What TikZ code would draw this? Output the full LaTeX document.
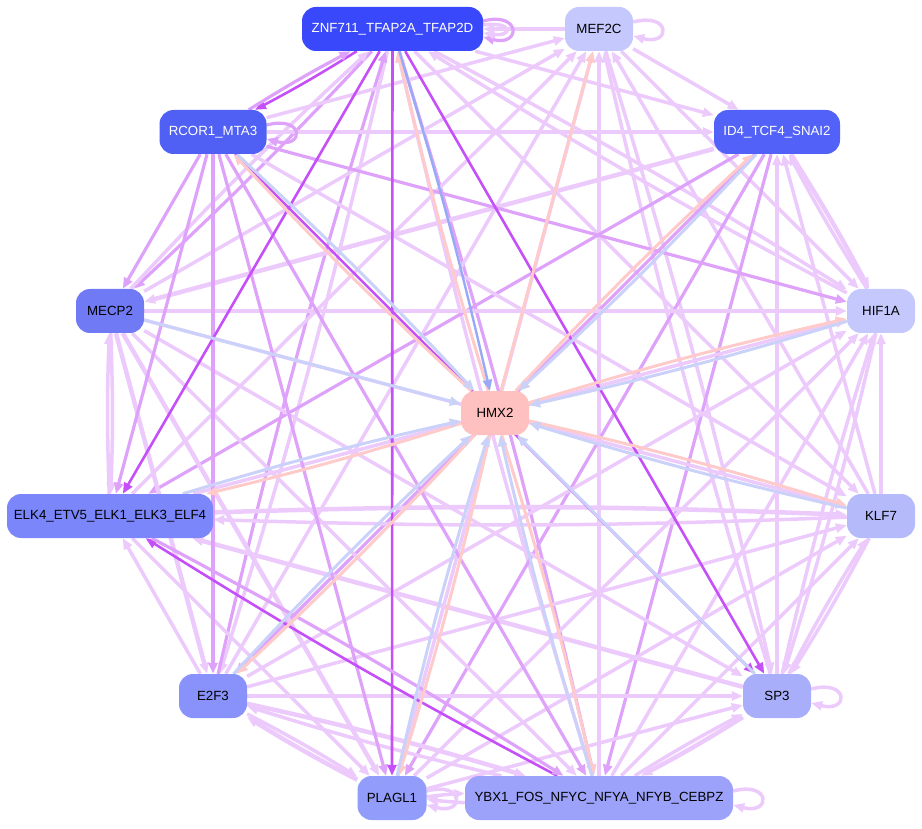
\documentclass[tikz,border=0pt]{standalone}
\usepackage{fontspec}
\setmainfont{Liberation Sans}
\usetikzlibrary{arrows.meta,backgrounds,calc}
\definecolor{cZ}{RGB}{56,72,250}
\definecolor{cM}{RGB}{197,200,252}
\definecolor{cR}{RGB}{80,96,245}
\definecolor{cI}{RGB}{82,98,248}
\definecolor{cC}{RGB}{112,122,245}
\definecolor{cH}{RGB}{197,200,252}
\definecolor{cX}{RGB}{255,192,192}
\definecolor{cL}{RGB}{122,134,250}
\definecolor{cK}{RGB}{180,186,250}
\definecolor{cE}{RGB}{136,146,250}
\definecolor{cS}{RGB}{168,174,250}
\definecolor{cP}{RGB}{146,156,250}
\definecolor{cY}{RGB}{156,162,250}
\definecolor{eL}{RGB}{236,202,252}
\definecolor{eM}{RGB}{222,162,250}
\definecolor{eS}{RGB}{198,80,248}
\definecolor{ePk}{RGB}{255,202,202}
\definecolor{eBl}{RGB}{202,210,250}
\definecolor{eBd}{RGB}{152,170,246}
\newcommand{\myE}[3]{\draw[#3] (#1) to (#2);}
\newcommand{\myB}[4]{\draw[#3,bend left=2] (#1) to (#2);\draw[#4,bend left=2] (#2) to (#1);}
\begin{document}
\begin{tikzpicture}[x=1pt,y=-1pt,
  nd/.style={rounded corners=14pt,minimum height=44pt,inner sep=0pt,font=\fontsize{13.3}{15}\selectfont},
  arr/.style={-{Triangle[length=11pt,width=9pt]}},
  lt/.style={arr,draw=eL,line width=3.5pt},
  ltt/.style={arr,draw=eL,line width=4.5pt},
  md/.style={arr,draw=eM,line width=3.2pt},
  st/.style={arr,draw=eS,line width=2.6pt},
  pk/.style={arr,draw=ePk,line width=3pt},
  bl/.style={arr,draw=eBl,line width=3pt},
  bd/.style={arr,draw=eBd,line width=2.4pt}]
\useasboundingbox (0,0) rectangle (922,829);
\node[nd,fill=cZ,text=white,minimum width=181pt] (Z) at (392.5,29) {ZNF711\_TFAP2A\_TFAP2D};
\node[nd,fill=cM,minimum width=68pt] (M) at (599,29) {MEF2C};
\node[nd,fill=cR,text=white,minimum width=107pt] (R) at (213,132) {RCOR1\_MTA3};
\node[nd,fill=cI,text=white,minimum width=126pt] (I) at (777,132) {ID4\_TCF4\_SNAI2};
\node[nd,fill=cC,minimum width=68pt] (C) at (110,311) {MECP2};
\node[nd,fill=cH,minimum width=68pt] (H) at (881,311) {HIF1A};
\node[nd,fill=cX,minimum width=68pt] (X) at (495,413) {HMX2};
\node[nd,fill=cL,minimum width=206pt] (L) at (110,516) {ELK4\_ETV5\_ELK1\_ELK3\_ELF4};
\node[nd,fill=cK,minimum width=68pt] (K) at (881,516) {KLF7};
\node[nd,fill=cE,minimum width=68pt] (E) at (213,696) {E2F3};
\node[nd,fill=cS,minimum width=68pt] (S) at (777,696) {SP3};
\node[nd,fill=cP,minimum width=69pt] (P) at (392,798) {PLAGL1};
\node[nd,fill=cY,minimum width=268pt] (Y) at (599,798) {YBX1\_FOS\_NFYC\_NFYA\_NFYB\_CEBPZ};
\begin{pgfonlayer}{background}
% outer network
\myE{M}{Z}{lt}
\myE{Z}{I}{lt}
\myB{Z}{H}{lt}{lt}
\myE{Z}{K}{lt}
\myB{Z}{Y}{md}{lt}
\myB{Z}{E}{lt}{md}
\myB{Z}{C}{md}{lt}
\myE{M}{I}{lt}
\myE{M}{H}{lt}
\myE{K}{M}{lt}
\myB{M}{S}{lt}{lt}
\myE{Y}{M}{lt}
\myE{P}{M}{lt}
\myE{E}{M}{lt}
\myE{L}{M}{lt}
\myE{C}{M}{lt}
\myE{R}{M}{lt}
\myB{I}{H}{ltt}{lt}
\myE{K}{I}{lt}
\myE{S}{I}{lt}
\myE{I}{Y}{md}
\myE{I}{P}{md}
\myE{I}{E}{md}
\myE{I}{L}{md}
\myE{I}{C}{ltt}
\myE{R}{I}{lt}
\myE{K}{H}{lt}
\myB{H}{S}{lt}{lt}
\myE{Y}{H}{lt}
\myE{P}{H}{lt}
\myE{E}{H}{lt}
\myE{L}{H}{lt}
\myE{C}{H}{lt}
\myE{R}{H}{md}
\myB{K}{S}{lt}{lt}
\myE{Y}{K}{lt}
\myE{P}{K}{lt}
\myE{E}{K}{lt}
\myB{L}{K}{ltt}{lt}
\myE{C}{K}{lt}
\myE{R}{K}{lt}
\myB{S}{Y}{ltt}{lt}
\myE{P}{S}{lt}
\myE{E}{S}{lt}
\myE{S}{L}{ltt}
\myE{C}{S}{lt}
\myB{Y}{P}{lt}{lt}
\myB{Y}{E}{lt}{ltt}
\myE{C}{Y}{lt}
\myE{R}{Y}{md}
\myB{P}{E}{ltt}{lt}
\myE{L}{P}{lt}
\myE{C}{P}{ltt}
\myE{R}{P}{md}
\myE{E}{L}{lt}
\myE{C}{E}{ltt}
\myE{R}{E}{md}
\myB{L}{C}{lt}{lt}
\myE{R}{L}{md}
\myE{R}{C}{md}
\myB{Z}{R}{st}{md}
\myE{Z}{P}{st}
\myE{Z}{L}{st}
\myE{Z}{S}{st}
\myE{R}{S}{st}
\myB{Y}{L}{st}{md}
% HMX2 edges
\myB{X}{Z}{pk}{bd}
\myE{X}{M}{pk}
\myB{X}{R}{pk}{bl}
\myB{X}{I}{pk}{bl}
\myE{C}{X}{bl}
\myB{X}{H}{pk}{bl}
\myB{X}{L}{pk}{bl}
\myB{X}{K}{pk}{bl}
\myB{X}{E}{pk}{bl}
\myE{S}{X}{bl}
\myB{X}{P}{pk}{bl}
\myB{X}{Y}{pk}{bl}
% self loops
\draw[md] ($(Z.east)+(0,-8)$) .. controls +(38,-10) and +(38,10) .. ($(Z.east)+(0,8)$);
\draw[lt] ($(Z.east)+(0,-4)$) .. controls +(30,-4) and +(30,4) .. ($(Z.east)+(0,4)$);
\draw[lt] ($(M.east)+(0,-7)$) .. controls +(38,-10) and +(38,10) .. ($(M.east)+(0,7)$);
\draw[md] ($(R.east)+(0,-7)$) .. controls +(38,-10) and +(38,10) .. ($(R.east)+(0,7)$);
\draw[lt] ($(S.east)+(0,-7)$) .. controls +(38,-10) and +(38,10) .. ($(S.east)+(0,7)$);
\draw[lt] ($(P.east)+(0,-7)$) .. controls +(38,-10) and +(38,10) .. ($(P.east)+(0,7)$);
\draw[lt] ($(Y.east)+(0,-7)$) .. controls +(38,-10) and +(38,10) .. ($(Y.east)+(0,7)$);
\end{pgfonlayer}
\end{tikzpicture}
\end{document}
